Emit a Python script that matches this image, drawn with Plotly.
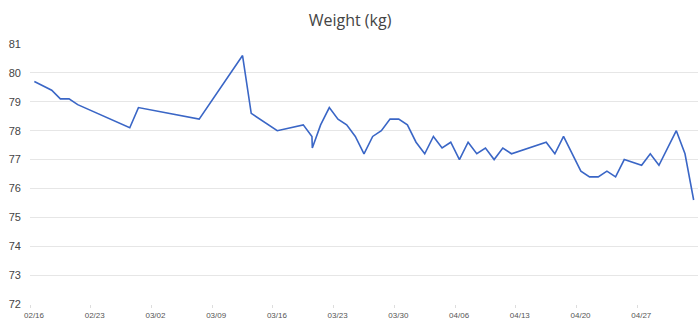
import plotly.graph_objects as go

dates = [
    "2017-02-16 12:00", "2017-02-18 12:00", "2017-02-19 12:00", "2017-02-20 12:00",
    "2017-02-21 12:00", "2017-02-27 12:00", "2017-02-28 12:00", "2017-03-07 12:00",
    "2017-03-12 12:00", "2017-03-13 12:00", "2017-03-16 12:00", "2017-03-19 12:00",
    "2017-03-20 12:00", "2017-03-20 13:00", "2017-03-21 12:00", "2017-03-22 12:00",
    "2017-03-23 12:00", "2017-03-24 12:00", "2017-03-25 12:00", "2017-03-26 12:00",
    "2017-03-27 12:00", "2017-03-28 12:00", "2017-03-29 12:00", "2017-03-30 12:00",
    "2017-03-31 12:00", "2017-04-01 12:00", "2017-04-02 12:00", "2017-04-03 12:00",
    "2017-04-04 12:00", "2017-04-05 12:00", "2017-04-06 12:00", "2017-04-07 12:00",
    "2017-04-08 12:00", "2017-04-09 12:00", "2017-04-10 12:00", "2017-04-11 12:00",
    "2017-04-12 12:00", "2017-04-16 12:00", "2017-04-17 12:00", "2017-04-18 12:00",
    "2017-04-20 12:00", "2017-04-21 12:00", "2017-04-22 12:00", "2017-04-23 12:00",
    "2017-04-24 12:00", "2017-04-25 12:00", "2017-04-27 12:00", "2017-04-28 12:00",
    "2017-04-29 12:00", "2017-05-01 12:00", "2017-05-02 12:00", "2017-05-03 12:00",
]
weights = [
    79.7, 79.4, 79.1, 79.1,
    78.9, 78.1, 78.8, 78.4,
    80.6, 78.6, 78.0, 78.2,
    77.8, 77.4, 78.2, 78.8,
    78.4, 78.2, 77.8, 77.2,
    77.8, 78.0, 78.4, 78.4,
    78.2, 77.6, 77.2, 77.8,
    77.4, 77.6, 77.0, 77.6,
    77.2, 77.4, 77.0, 77.4,
    77.2, 77.6, 77.2, 77.8,
    76.6, 76.4, 76.4, 76.6,
    76.4, 77.0, 76.8, 77.2,
    76.8, 78.0, 77.2, 75.6,
]

x_tick_vals = ["2017-02-16", "2017-02-23", "2017-03-02", "2017-03-09", "2017-03-16",
               "2017-03-23", "2017-03-30", "2017-04-06", "2017-04-13", "2017-04-20",
               "2017-04-27"]
x_tick_text = ["02/16", "02/23", "03/02", "03/09", "03/16", "03/23", "03/30",
               "04/06", "04/13", "04/20", "04/27"]
y_ticks = [72, 73, 74, 75, 76, 77, 78, 79, 80, 81]

fig = go.Figure()
fig.add_trace(go.Scatter(
    x=dates, y=weights, mode="lines",
    line=dict(color="#3a66c6", width=1.6),
    hoverinfo="skip",
))

fig.update_layout(
    width=700, height=332,
    margin=dict(l=30, r=2, t=44, b=28),
    paper_bgcolor="white", plot_bgcolor="white",
    showlegend=False,
    title=dict(text="Weight (kg)", x=0.5, xanchor="center", y=0.94, yanchor="middle",
               font=dict(family="Open Sans", size=16, color="#444444")),
    font=dict(family="Liberation Sans, Arial", color="#444444"),
)
fig.update_xaxes(
    type="date", automargin=False,
    range=["2017-02-16", "2017-05-04"],
    tickmode="array", tickvals=x_tick_vals, ticktext=x_tick_text,
    showgrid=False, zeroline=False,
    showline=False,
    ticks="outside", ticklen=3, tickcolor="#dddddd", tickwidth=1,
    tickfont=dict(size=8, color="#555555"),
    ticklabelshift=4, ticklabelstandoff=0,
)
fig.update_yaxes(
    range=[72, 81], automargin=False,
    tickmode="array", tickvals=y_ticks,
    showgrid=True, gridcolor="#e6e6e6", gridwidth=1,
    zeroline=False, showline=False, ticks="",
    tickfont=dict(size=11, color="#444444"),
    ticklabelstandoff=8,
)

fig.write_html(
    "out.html",
    config={"displayModeBar": False, "staticPlot": True},
    post_script="document.body.style.margin='0';document.documentElement.style.overflow='hidden';",
)
